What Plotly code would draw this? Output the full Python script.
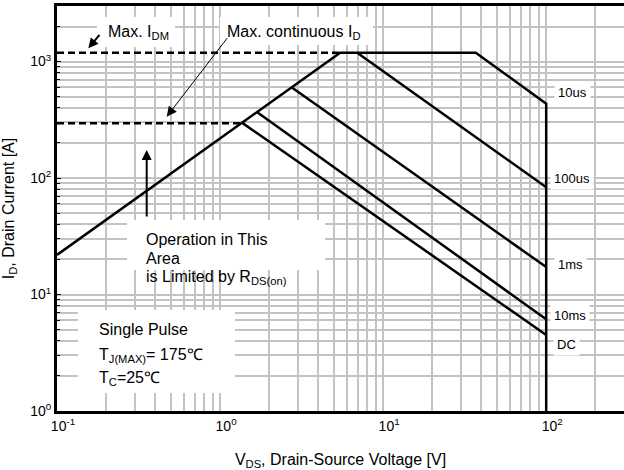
import numpy as np
import plotly.graph_objects as go

# ---- canvas / plot-area geometry ----
W, H = 624, 470
PLOT_L, PLOT_T = 57, 6
PLOT_W, PLOT_H = 567, 405
XR = [-1.0, np.log10(300)]   # log10 range of V_DS
YR = [0.0, np.log10(3000)]   # log10 range of I_D

GRID = "#c3c3c3"
FONT = "Liberation Sans, Arial, Helvetica, sans-serif"

# ---- SOA boundary data (V_DS [V], I_D [A]) ----
v_10us = [0.1, 5.45, 37.0, 100.0, 100.0]
i_10us = [21.9, 1190, 1190, 435, 1.0]
v_100us = [6.93, 100.0]
i_100us = [1190, 83.5]
v_1ms = [2.77, 100.0]
i_1ms = [597, 17.2]
v_10ms = [1.69, 100.0]
i_10ms = [367, 6.13]
v_dc = [1.375, 100.0]
i_dc = [296, 4.5]

# pulsed / continuous current limits (dashed)
v_idm = [0.1, 5.45]
i_idm = [1190, 1190]
v_id = [0.1, 1.375]
i_id = [296, 296]

# ---- axis ticks ----
x_major = [0.1, 1, 10, 100]
x_major_text = ["10<sup>-1</sup>", "10<sup>0</sup>", "10<sup>1</sup>", "10<sup>2</sup>"]
x_minor = [0.2, 0.3, 0.4, 0.5, 0.6, 0.7, 0.8, 0.9,
           2, 3, 4, 5, 6, 7, 8, 9,
           20, 30, 40, 50, 60, 70, 80, 90, 200]
y_major = [1, 10, 100, 1000]
y_major_text = ["10<sup>0</sup>", "10<sup>1</sup>", "10<sup>2</sup>", "10<sup>3</sup>"]
y_minor = [2, 3, 4, 5, 6, 7, 8, 9,
           20, 30, 40, 50, 60, 70, 80, 90,
           200, 300, 400, 500, 600, 700, 800, 900, 2000]


def fx(x_px):
    return (x_px - PLOT_L) / PLOT_W


def fy(y_px):
    return (PLOT_T + PLOT_H - y_px) / PLOT_H


def to_x(x_px):
    return 10 ** (XR[0] + fx(x_px) * (XR[1] - XR[0]))


def to_y(y_px):
    return 10 ** (YR[0] + fy(y_px) * (YR[1] - YR[0]))


fig = go.Figure()

solid = dict(color="black", width=2.5)
dashed = dict(color="black", width=2.5, dash="7px,4px")

for v, i in [(v_10us, i_10us), (v_100us, i_100us), (v_1ms, i_1ms),
             (v_10ms, i_10ms), (v_dc, i_dc)]:
    fig.add_trace(go.Scatter(x=v, y=i, mode="lines", line=solid, hoverinfo="skip"))
for v, i in [(v_idm, i_idm), (v_id, i_id)]:
    fig.add_trace(go.Scatter(x=v, y=i, mode="lines", line=dashed, hoverinfo="skip"))

# white panels behind the text blocks (above grid, below curves)
panels = [(97, 17, 175, 47), (220, 17, 373, 45), (127, 220, 325, 270), (78, 310, 235, 393)]
for x0, y0, x1, y1 in panels:
    fig.add_shape(type="rect", xref="x", yref="y",
                  x0=to_x(x0), x1=to_x(x1), y0=to_y(y1), y1=to_y(y0),
                  fillcolor="white", line=dict(width=0), layer="between")

ann = []


def text(s, x_px, y_px, size=16, **kw):
    d = dict(text=s, x=fx(x_px), y=fy(y_px), xref="paper", yref="paper",
             xanchor="left", yanchor="middle", showarrow=False, borderpad=0,
             font=dict(family=FONT, size=size, color="black"))
    d.update(kw)
    ann.append(d)


text("Max. I<sub>DM</sub>", 107, 33)
text("Max. continuous I<sub>D</sub>", 226, 33)
text("Operation in This", 145, 239)
text("Area", 145, 258)
text("is Limited by R<sub>DS(on)</sub>", 145, 277)
text("Single Pulse", 98, 329)
text("T<sub>J(MAX)</sub>= 175℃", 98, 355)
text("T<sub>C</sub>=25℃", 98, 378)

# curve labels at the 100 V edge
for s, x_px, y_px in [("10us", 554, 93), ("100us", 550, 178), ("1ms", 554, 264),
                      ("10ms", 550, 315), ("DC", 553, 344)]:
    text(s, x_px, y_px, size=13, bgcolor="white", borderpad=3)


def arrow(hx, hy, tx, ty, width, size):
    ann.append(dict(text="", x=fx(hx), y=fy(hy), xref="paper", yref="paper",
                    ax=tx - hx, ay=ty - hy, showarrow=True, arrowhead=2,
                    arrowwidth=width, arrowsize=size, arrowcolor="black"))


arrow(88.3, 48.3, 100.7, 33.3, 2, 1.0)
arrow(166.7, 116.7, 228.3, 36.7, 1, 2.0)
arrow(146.7, 150, 146.7, 218, 2, 1.0)

fig.update_layout(
    template="none",
    width=W, height=H,
    margin=dict(l=PLOT_L, r=W - PLOT_L - PLOT_W, t=PLOT_T, b=H - PLOT_T - PLOT_H),
    paper_bgcolor="white", plot_bgcolor="white",
    showlegend=False,
    font=dict(family=FONT, size=14, color="black"),
    annotations=ann,
)

fig.update_xaxes(
    type="log", range=XR, automargin=False,
    tickmode="array", tickvals=x_major, ticktext=x_major_text,
    tickfont=dict(size=14), ticks="", ticklabelshift=6,
    showgrid=True, gridcolor=GRID, gridwidth=2,
    minor=dict(tickvals=x_minor, showgrid=True, gridcolor=GRID, gridwidth=2, ticks=""),
    showline=True, linecolor="black", linewidth=3, mirror=True,
    zeroline=False,
    title=dict(text="V<sub>DS</sub>, Drain-Source Voltage [V]", font=dict(size=16)),
)
fig.update_yaxes(
    type="log", range=YR, automargin=False,
    tickmode="array", tickvals=y_major, ticktext=y_major_text,
    tickfont=dict(size=14), ticks="inside", ticklen=4, tickcolor="black", tickwidth=1,
    showgrid=True, gridcolor=GRID, gridwidth=2,
    minor=dict(tickvals=y_minor, showgrid=True, gridcolor=GRID, gridwidth=2,
               ticks="inside", ticklen=3, tickcolor="black", tickwidth=1),
    showline=True, linecolor="black", linewidth=3, mirror=False,
    zeroline=False,
    title=dict(text="I<sub>D</sub>, Drain Current [A]", font=dict(size=16)),
)

fig.write_html("out.html")
